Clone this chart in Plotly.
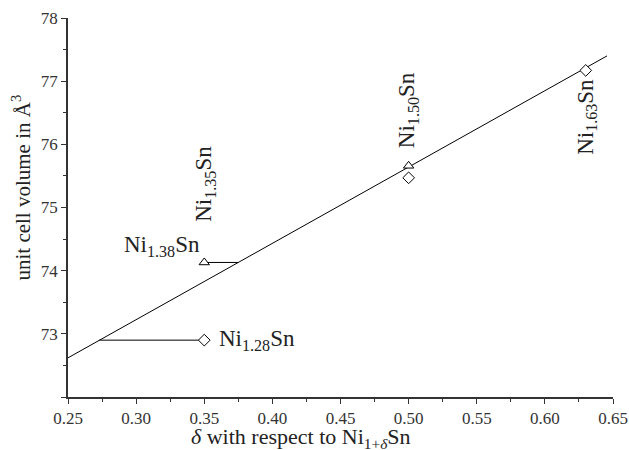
import plotly.graph_objects as go

# data
tri_x = [0.35, 0.50]
tri_y = [74.13, 75.66]
dia_x = [0.35, 0.50, 0.63]
dia_y = [72.90, 75.47, 77.17]
fit_x = [0.25, 0.6456]
fit_y = [72.62, 77.40]
hline1_x = [0.35, 0.375]
hline1_y = [74.13, 74.13]
hline2_x = [0.273, 0.35]
hline2_y = [72.90, 72.90]
x_ticks = [0.25, 0.30, 0.35, 0.40, 0.45, 0.50, 0.55, 0.60, 0.65]
y_ticks = [72, 73, 74, 75, 76, 77, 78]
y_ticktext = ["", "73", "74", "75", "76", "77", "78"]

labels = [
    dict(x=0.348, y=74.39, text="Ni<sub>1.38</sub>Sn", angle=0, xanchor="right"),
    dict(x=0.359, y=72.90, text="Ni<sub>1.28</sub>Sn", angle=0, xanchor="left"),
    dict(x=0.35, y=75.38, text="Ni<sub>1.35</sub>Sn", angle=-90, xanchor="center"),
    dict(x=0.4995, y=76.54, text="Ni<sub>1.50</sub>Sn", angle=-90, xanchor="center"),
    dict(x=0.6307, y=76.43, text="Ni<sub>1.63</sub>Sn", angle=-90, xanchor="center"),
]

FONT = "Liberation Serif"
fig = go.Figure()
line_style = dict(color="black", width=1)
fig.add_trace(go.Scatter(x=fit_x, y=fit_y, mode="lines", line=line_style, showlegend=False))
fig.add_trace(go.Scatter(x=hline1_x, y=hline1_y, mode="lines", line=line_style, showlegend=False))
fig.add_trace(go.Scatter(x=hline2_x, y=hline2_y, mode="lines", line=line_style, showlegend=False))
fig.add_trace(go.Scatter(x=tri_x, y=tri_y, mode="markers",
                         marker=dict(symbol="triangle-up", size=9, color="white",
                                     line=dict(color="black", width=1)), showlegend=False))
fig.add_trace(go.Scatter(x=dia_x, y=dia_y, mode="markers",
                         marker=dict(symbol="diamond", size=9, color="white",
                                     line=dict(color="black", width=1)), showlegend=False))

for lb in labels:
    fig.add_annotation(x=lb["x"], y=lb["y"], text=lb["text"], textangle=lb["angle"],
                       showarrow=False, xanchor=lb["xanchor"], yanchor="middle",
                       font=dict(family=FONT, size=23, color="#222"))

# axis titles
fig.add_annotation(xref="paper", yref="paper", x=0.428, y=-0.108,
                   text="<i>δ</i> with respect to Ni<sub>1+<i>δ</i></sub>Sn",
                   showarrow=False, xanchor="center", yanchor="middle",
                   font=dict(family=FONT, size=22, color="#222"))
fig.add_annotation(xref="paper", yref="paper", x=-0.086, y=0.553,
                   text="unit cell volume in Å<sup>3</sup>", textangle=-90,
                   showarrow=False, xanchor="center", yanchor="middle",
                   font=dict(family=FONT, size=21, color="#222"))

fig.update_layout(
    width=629, height=450,
    margin=dict(l=68, r=16, t=18, b=53),
    plot_bgcolor="white", paper_bgcolor="white",
    font=dict(family=FONT, color="#333"),
    xaxis=dict(range=[0.25, 0.65], tickvals=x_ticks, ticktext=[f"{v:.2f}" for v in x_ticks],
               automargin=False,
               showgrid=False, zeroline=False, showline=True, linecolor="#333", linewidth=1.5,
               ticks="outside", ticklen=5, tickcolor="#333",
               minor=dict(dtick=0.025, tick0=0.25, ticks="outside", ticklen=3, tickcolor="#333"),
               tickfont=dict(size=17, family=FONT, color="#333")),
    yaxis=dict(range=[72, 78], tickvals=y_ticks, ticktext=y_ticktext,
               automargin=False,
               showgrid=False, zeroline=False, showline=True, linecolor="#333", linewidth=1.5,
               ticks="outside", ticklen=5, tickcolor="#333",
               minor=dict(dtick=0.5, tick0=72, ticks="outside", ticklen=3, tickcolor="#333"),
               tickfont=dict(size=17, family=FONT, color="#333")),
)

fig.write_html("out.html")
